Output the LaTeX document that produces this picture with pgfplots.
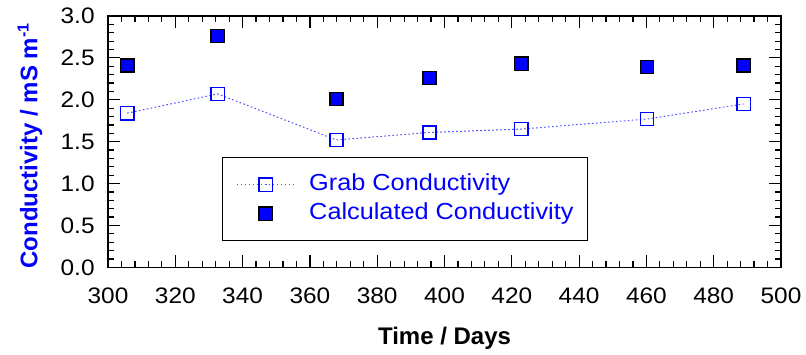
\documentclass[border=0pt]{standalone}
\usepackage{fontspec}
\setmainfont[FakeStretch=1.09]{Liberation Sans}
\newfontfamily\labelfont{Liberation Sans}
\usepackage{pgfplots}
\pgfplotsset{compat=1.18}
\definecolor{dotblue}{RGB}{80,80,255}

\begin{document}
\begin{tikzpicture}
\useasboundingbox (0,0) rectangle (403pt,177pt);
\begin{axis}[
  at={(54pt,43.35pt)}, anchor=south west,
  scale only axis, width=336.5pt, height=125.65pt,
  xmin=300, xmax=500, ymin=0, ymax=3,
  xtick={300,320,...,500}, ytick={0,0.5,...,3},
  minor x tick num=4, minor y tick num=4,
  tick align=inside, major tick length=6pt, minor tick length=3pt,
  axis line style={line width=0.75pt},
  every tick/.style={line width=0.6pt, black},
  /pgf/number format/assume math mode=true,
  ticklabel style={font=\fontsize{11.2}{13}\selectfont},
  xticklabel style={inner sep=0pt, anchor=north, yshift=-10pt},
  yticklabel style={inner sep=0pt, anchor=east, xshift=-6.5pt,
    /pgf/number format/.cd, fixed, fixed zerofill, precision=1},
  xlabel={Time / Days},
  xlabel style={at={(axis description cs:0.5,-0.309)}, anchor=base,
    font=\labelfont\bfseries\fontsize{12}{14}\selectfont},
  ylabel={Conductivity / mS m\textsuperscript{-1}},
  ylabel style={at={(axis description cs:-0.116,0.485)}, anchor=center,
    font=\labelfont\bfseries\fontsize{12}{14}\selectfont, text=blue},
  legend style={at={(rel axis cs:0.169,0.438)}, anchor=north west,
    draw=black, line width=0.5pt, inner xsep=7pt, inner ysep=8pt,
    row sep=3.5pt, column sep=7pt, text=blue,
    font=\fontsize{11.6}{13}\selectfont,
    nodes={inner sep=0pt, text height=8.5pt, text depth=2.5pt}},
  legend cell align=left,
  legend image code/.code={\draw[mark repeat=2,mark phase=2]
    plot coordinates {(0pt,0pt) (14.5pt,0pt) (29pt,0pt)};},
]
% grab samples, joined by a dotted line
\addplot[color=dotblue, line width=0.5pt, dash pattern=on 0.8pt off 1.2pt,
  mark=square, mark size=3.3pt,
  mark options={solid, draw=blue, line width=0.75pt}]
  coordinates {(305.7,1.84) (332.6,2.07) (367.9,1.52) (395.5,1.61)
               (422.8,1.65) (460.2,1.77) (488.9,1.95)};
\addlegendentry{Grab Conductivity}
% calculated values, markers only
\addplot[only marks, mark=square*, mark size=3.3pt,
  mark options={draw=black, fill=blue, line width=0.75pt}]
  coordinates {(305.7,2.41) (332.6,2.76) (367.9,2.01) (395.5,2.26)
               (422.8,2.43) (460.2,2.39) (488.9,2.41)};
\addlegendentry{Calculated Conductivity}
\end{axis}
\end{tikzpicture}
\end{document}
